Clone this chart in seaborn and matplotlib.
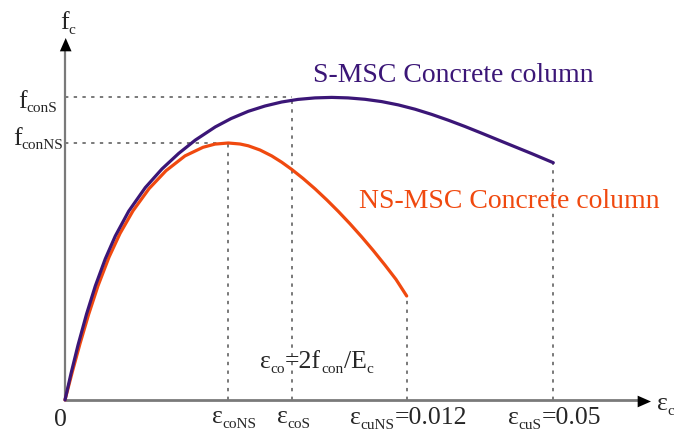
import matplotlib
matplotlib.use("Agg")
import matplotlib.pyplot as plt
import seaborn as sns
import pandas as pd

# Stress-strain curve points (schematic units: strain along x, stress along y)
strain_s = [0, 6, 13, 21.5, 30.3, 40.3, 50.3, 63.7, 80.3, 97, 113.7, 130.3,
            150.3, 166, 183.3, 200, 216.7, 233, 250, 266.7, 283, 300, 316.7,
            333.3, 350, 366.7, 383.3, 400, 416.7, 433.3, 450, 466.7, 488.3]
stress_s = [0, 26.4, 54.8, 85.8, 114.0, 141.2, 164.0, 188.8, 212.4, 231.1,
            246.6, 259.9, 273.1, 281.4, 288.7, 294.0, 298.0, 300.6, 302.1,
            302.6, 302.1, 300.7, 298.4, 295.1, 290.8, 285.6, 279.8, 273.5,
            266.8, 260.0, 253.2, 246.4, 237.3]

strain_ns = [0, 7.5, 15, 23.5, 33, 44, 55, 68, 84, 101, 120, 138, 150, 163.3,
             175, 183.3, 195, 206.7, 216.7, 226.7, 238, 250, 262, 273.3, 285,
             296.7, 308, 320, 331, 341.7]
stress_ns = [0, 28.9, 56.3, 85.2, 114.2, 142.8, 166.5, 189.2, 211.3, 229.3,
             244.1, 252.7, 255.9, 257.0, 256.0, 254.2, 250.0, 244.1, 237.8,
             230.6, 221.6, 211.2, 199.9, 188.6, 176.2, 163.1, 149.8, 134.9,
             120.6, 104.0]

# Characteristic points
eps_co_ns, eps_co_s = 163, 226.7
eps_cu_ns, eps_cu_s = strain_ns[-1], strain_s[-1]
f_con_s, f_con_ns = 302.6, 257.0

series_names = ["S-MSC Concrete column", "NS-MSC Concrete column"]
purple = "#3b1677"
orange = "#f0490f"

sns.set_theme(style="white")
plt.rcParams["font.family"] = ["Liberation Serif", "DejaVu Serif"]

df = pd.concat([
    pd.DataFrame({"strain": strain_s, "stress": stress_s, "column": series_names[0]}),
    pd.DataFrame({"strain": strain_ns, "stress": stress_ns, "column": series_names[1]}),
])

W, H = 674, 430
X0, Y0 = 65, 400  # origin of the diagram in figure pixels
fig = plt.figure(figsize=(W / 100, H / 100), dpi=100)
ax = fig.add_axes([0, 0, 1, 1])
ax.set_xlim(-X0, W - X0)
ax.set_ylim(Y0 - H, Y0)
ax.axis("off")

# Guide lines to the characteristic points
guide = dict(color="#555555", lw=1.1, ls=(0, (2.2, 3.5)), zorder=1)
ax.plot([0, eps_co_s], [f_con_s, f_con_s], **guide)
ax.plot([0, eps_co_ns], [f_con_ns, f_con_ns], **guide)
ax.plot([eps_co_ns, eps_co_ns], [0, f_con_ns], **guide)
ax.plot([eps_co_s, eps_co_s], [0, f_con_s], **guide)
ax.plot([eps_cu_ns, eps_cu_ns], [0, stress_ns[-1]], **guide)
ax.plot([eps_cu_s, eps_cu_s], [0, stress_s[-1]], **guide)

# Coordinate axes with arrowheads
ax.plot([0, 576], [0, 0], color="#7a7a7a", lw=2, solid_capstyle="butt", zorder=2)
ax.plot([0, 0], [0, 352], color="#7a7a7a", lw=1.6, solid_capstyle="butt", zorder=2)
head = dict(arrowstyle="-|>,head_length=0.8,head_width=0.35",
            color="black", lw=0, shrinkA=0, shrinkB=0)
ax.annotate("", xy=(586, -1.5), xytext=(573, -1.5), arrowprops=head)
ax.annotate("", xy=(0.7, 362), xytext=(0.7, 348), arrowprops=head)

# Curves
sns.lineplot(data=df, x="strain", y="stress", hue="column", sort=False,
             palette={series_names[0]: purple, series_names[1]: orange},
             hue_order=[series_names[1], series_names[0]],
             lw=2.3, legend=False, ax=ax, zorder=3)

fs = 20
ax.text(388, 325, series_names[0], color=purple, fontsize=fs, ha="center", va="center")
ax.text(444, 199, series_names[1], color=orange, fontsize=fs, ha="center", va="center")

MAIN, SUB = 18.5, 11


def label(left_px, base_px, pieces):
    """Write a label made of runs of (text, size, drop below baseline in px)."""
    prev = None
    for text, size, drop in pieces:
        y = Y0 - base_px - drop
        if prev is None:
            prev = ax.text(left_px - X0, y, text, fontsize=size,
                           ha="left", va="baseline")
        else:
            prev = ax.annotate(text, xy=(1, y), xycoords=(prev, "data"),
                               fontsize=size, ha="left", va="baseline")
    return prev


label(60, 29, [("f", MAIN, 0), ("c", SUB, 5)])
label(18, 108, [("f", MAIN, 0), ("conS", SUB, 4)])
label(13, 145, [("f", MAIN, 0), ("conNS", SUB, 4)])
label(54, 426, [("0", MAIN, 0)])
label(657, 410, [("ε", MAIN, 0), ("c", SUB, 5)])

label(212, 423, [("ε", MAIN, 0), ("coNS", SUB, 5)])
label(277, 423, [("ε", MAIN, 0), ("coS", SUB, 5)])
label(350, 424, [("ε", MAIN, 0), ("cuNS", SUB, 5), ("=0.012", MAIN, 0)])
label(508, 424, [("ε", MAIN, 0), ("cuS", SUB, 5), ("=0.05", MAIN, 0)])
label(260, 368, [("ε", MAIN, 0), ("co", SUB, 5), ("=2f", MAIN, 0),
                 ("con", SUB, 5), ("/E", MAIN, 0), ("c", SUB, 5)])

fig.savefig("out.png", dpi=100)
